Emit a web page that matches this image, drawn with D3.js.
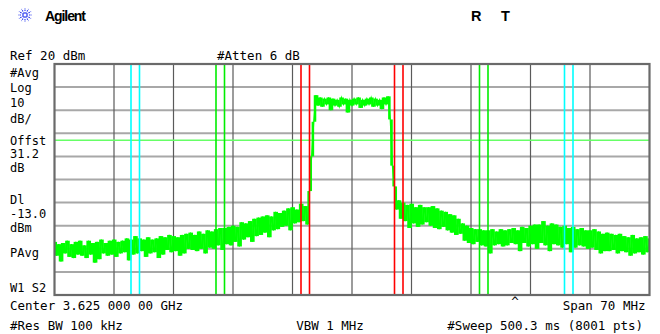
<!DOCTYPE html>
<html>

<head>
    <script src="https://d3js.org/d3.v7.min.js"></script>
    <style>
        body { margin: 0; background: #fff; }
        text { font-family: "DejaVu Sans Mono", monospace; font-size: 12.5px; fill: #000; }
    </style>
</head>

<body>
    <svg id="svg"></svg>
</body>

</html>

<script type="text/javascript">
    // sweep settings
    const refLevel = 20;
    const dbPerDiv = 10;
    const spanMHz = 70;
    const displayLine = -13.0;

    // marker pairs, MHz offset from center
    const redMarkers = [-6, -5, 5, 6];
    const greenMarkers = [-16, -15, 15, 16];
    const cyanMarkers = [-26, -25, 25, 26];

    // trace, dBm, one value every 0.25 MHz from -35 to +35 MHz
    const trace = [
        -57, -63, -58, -65.5,
        -57.5, -62, -56.5, -63.5,
        -58, -64, -57, -62.5,
        -56.5, -63, -58.5, -64,
        -56.5, -62.5, -57.5, -66,
        -57, -64.5, -56, -62,
        -57.5, -63, -56.5, -62.5,
        -56, -63.5, -57, -62,
        -56.5, -61.5, -55.5, -65,
        -56, -62.5, -54.5, -62,
        -55.5, -61, -56, -63.5,
        -55, -62, -56, -61.5,
        -55.5, -64, -54.5, -62.5,
        -55, -60.5, -54, -61.5,
        -54.5, -61, -55, -63,
        -54, -62, -53.5, -60,
        -53, -60.5, -54, -61,
        -52.5, -60, -53.5, -62,
        -52, -59.5, -52.5, -60,
        -51.5, -58.5, -51, -60.5,
        -51, -58, -50.5, -58.5,
        -50, -57, -50.5, -59,
        -48.5, -56, -49, -55,
        -48, -57, -47, -54.5,
        -46.5, -54, -46, -53,
        -45.5, -55, -46, -52,
        -44, -51.5, -44.5, -50.5,
        -43.5, -50, -42.5, -52,
        -42, -49, -43, -48.5,
        -40.5, -48, -41.5, -49.5,
        -35, -20, -5, 6.5,
        2, 5.5, 1.5, 5,
        2.5, 5.5, 0, 5,
        2, 4.5, 1.5, 5.5,
        2.5, 5, -1, 4.5,
        2, 5, 2.5, 5.5,
        1, 4.5, 2, 5,
        2.5, 5.5, 1.5, 5,
        2, 4.5, 0.5, 5.5,
        2.5, 6, -4, -24,
        -33, -43, -39, -47,
        -40, -48, -41, -51,
        -40.5, -49, -42, -50.5,
        -41, -49.5, -42, -48.5,
        -42, -50, -41.5, -51,
        -42.5, -51.5, -43.5, -50.5,
        -44, -52, -45, -53,
        -45.5, -54, -47, -53.5,
        -49, -56.5, -50, -57.5,
        -51, -58, -51.5, -57,
        -51.5, -58.5, -52, -59,
        -52, -62, -51.5, -58.5,
        -52.5, -58, -51.5, -59,
        -52, -58.5, -51.5, -57.5,
        -51, -58, -52, -61,
        -50.5, -57.5, -51, -59,
        -50, -58, -49.5, -60,
        -49.5, -57.5, -48, -58.5,
        -50, -61, -49, -58,
        -49.5, -58.5, -50.5, -59.5,
        -50, -58, -51, -61.5,
        -50.5, -59.5, -51.5, -58.5,
        -51, -59, -52, -60,
        -52, -59.5, -51.5, -60.5,
        -52.5, -62, -53.5, -61,
        -53, -61, -53.5, -60.5,
        -54, -62, -53.5, -61,
        -54.5, -61.5, -55, -63,
        -54, -62, -55.5, -61.5,
        -55, -62.5, -54.5, -61.5,
        -55.5
    ];
    const freqs = trace.map((d, i) => -spanMHz / 2 + i * 0.25);

    const leftLabels = [
        ['#Avg', 76.5], ['Log', 92], ['10', 106.7], ['dB/', 123.3],
        ['Offst', 144.5], ['31.2', 158.3], ['dB', 172.3],
        ['Dl', 204], ['-13.0', 218.3], ['dBm', 232.3],
        ['PAvg', 256.7], ['W1  S2', 291.7]
    ];

    const W = 660, H = 334;
    const plot = { left: 54.5, right: 649.5, top: 64, bottom: 295 };

    var svg = d3.select("#svg")
        .attr("width", W)
        .attr("height", H);

    const x = d3.scaleLinear()
        .domain([-spanMHz / 2, spanMHz / 2])
        .range([plot.left, plot.right]);

    const y = d3.scaleLinear()
        .domain([refLevel - dbPerDiv * 10, refLevel])
        .range([plot.bottom, plot.top]);

    // horizontal grid
    svg.append('g').selectAll('line')
        .data(d3.range(1, 10))
        .enter().append('line')
        .attr('x1', plot.left).attr('x2', plot.right)
        .attr('y1', d => y(refLevel - d * dbPerDiv))
        .attr('y2', d => y(refLevel - d * dbPerDiv))
        .attr('stroke', '#a8a8a8')
        .attr('stroke-width', 2);

    // vertical grid
    svg.append('g').selectAll('line')
        .data(d3.range(1, 10))
        .enter().append('line')
        .attr('x1', d => x(-spanMHz / 2 + d * 7))
        .attr('x2', d => x(-spanMHz / 2 + d * 7))
        .attr('y1', plot.top).attr('y2', plot.bottom)
        .attr('stroke', '#5a5a5a')
        .attr('stroke-width', 1.2);

    // display line
    svg.append('line')
        .attr('x1', plot.left).attr('x2', plot.right)
        .attr('y1', y(displayLine)).attr('y2', y(displayLine))
        .attr('stroke', '#66ff66')
        .attr('stroke-width', 1.3);

    svg.append('clipPath').attr('id', 'clip')
        .append('rect')
        .attr('x', plot.left).attr('y', plot.top)
        .attr('width', plot.right - plot.left)
        .attr('height', plot.bottom - plot.top);

    const traceG = svg.append('g').attr('clip-path', 'url(#clip)');

    // each display column spans the min..max of the sweep points in it
    const cols = d3.pairs(trace).map((p, i) => ({ f0: freqs[i], f1: freqs[i + 1], a: p[0], b: p[1] }));
    traceG.selectAll('rect')
        .data(cols)
        .enter().append('rect')
        .attr('x', d => x(d.f0))
        .attr('width', d => x(d.f1) - x(d.f0) + 0.4)
        .attr('y', d => y(Math.max(d.a, d.b)))
        .attr('height', d => Math.abs(y(d.a) - y(d.b)))
        .attr('fill', '#00ff00');

    const line = d3.line()
        .x((d, i) => x(freqs[i]))
        .y(d => y(d));

    traceG.append('path')
        .datum(trace)
        .attr('d', line)
        .attr('fill', 'none')
        .attr('stroke', '#00ff00')
        .attr('stroke-width', 1.2);

    // markers
    const markerSets = [[redMarkers, '#ff0000'], [greenMarkers, '#00ee00'], [cyanMarkers, '#00ffff']];
    markerSets.forEach(function(m) {
        svg.append('g').selectAll('line')
            .data(m[0])
            .enter().append('line')
            .attr('x1', d => x(d)).attr('x2', d => x(d))
            .attr('y1', plot.top).attr('y2', plot.bottom)
            .attr('stroke', m[1])
            .attr('stroke-width', 1.6);
    });

    // frame
    svg.append('rect')
        .attr('x', plot.left).attr('y', plot.top)
        .attr('width', plot.right - plot.left)
        .attr('height', plot.bottom - plot.top)
        .attr('fill', 'none')
        .attr('stroke', '#6a6a6a')
        .attr('stroke-width', 2.2);

    // header
    const logo = svg.append('g').attr('transform', 'translate(25,15)');
    logo.selectAll('line')
        .data(d3.range(12))
        .enter().append('line')
        .attr('x1', d => 1.5 * Math.cos(d * Math.PI / 6))
        .attr('y1', d => 1.5 * Math.sin(d * Math.PI / 6))
        .attr('x2', d => 7 * Math.cos(d * Math.PI / 6))
        .attr('y2', d => 7 * Math.sin(d * Math.PI / 6))
        .attr('stroke', '#2233ee')
        .attr('stroke-width', 1.1)
        .attr('stroke-dasharray', '1.5,1');

    svg.append('text')
        .attr('x', 45).attr('y', 20.5)
        .attr('textLength', 41)
        .style('font-family', '"Liberation Sans", Arial, sans-serif')
        .style('font-weight', 'bold')
        .style('font-size', '14px')
        .text('Agilent');

    [['R', 471], ['T', 501]].forEach(function(t) {
        svg.append('text')
            .attr('x', t[1]).attr('y', 20.5)
            .style('font-family', '"Liberation Sans", Arial, sans-serif')
            .style('font-weight', 'bold')
            .style('font-size', '14.5px')
            .text(t[0]);
    });

    svg.append('text').attr('x', 10).attr('y', 59.5).text('Ref 20 dBm');
    svg.append('text').attr('x', 217).attr('y', 59.5).text('#Atten 6 dB');

    svg.append('g').selectAll('text')
        .data(leftLabels)
        .enter().append('text')
        .attr('x', 10)
        .attr('y', d => d[1])
        .style('font-size', '12px')
        .text(d => d[0]);

    // footer
    svg.append('text').attr('x', 10).attr('y', 310).text('Center 3.625 000 00 GHz');
    svg.append('text').attr('x', 515).attr('y', 306).attr('text-anchor', 'middle').text('^');
    svg.append('text').attr('x', 645.5).attr('y', 310).attr('text-anchor', 'end').text('Span 70 MHz');
    svg.append('text').attr('x', 10).attr('y', 329.5).text('#Res BW 100 kHz');
    svg.append('text').attr('x', 330).attr('y', 329.5).attr('text-anchor', 'middle').text('VBW 1 MHz');
    svg.append('text').attr('x', 643).attr('y', 329.5).attr('text-anchor', 'end').text('#Sweep 500.3 ms (8001 pts)');
</script>
